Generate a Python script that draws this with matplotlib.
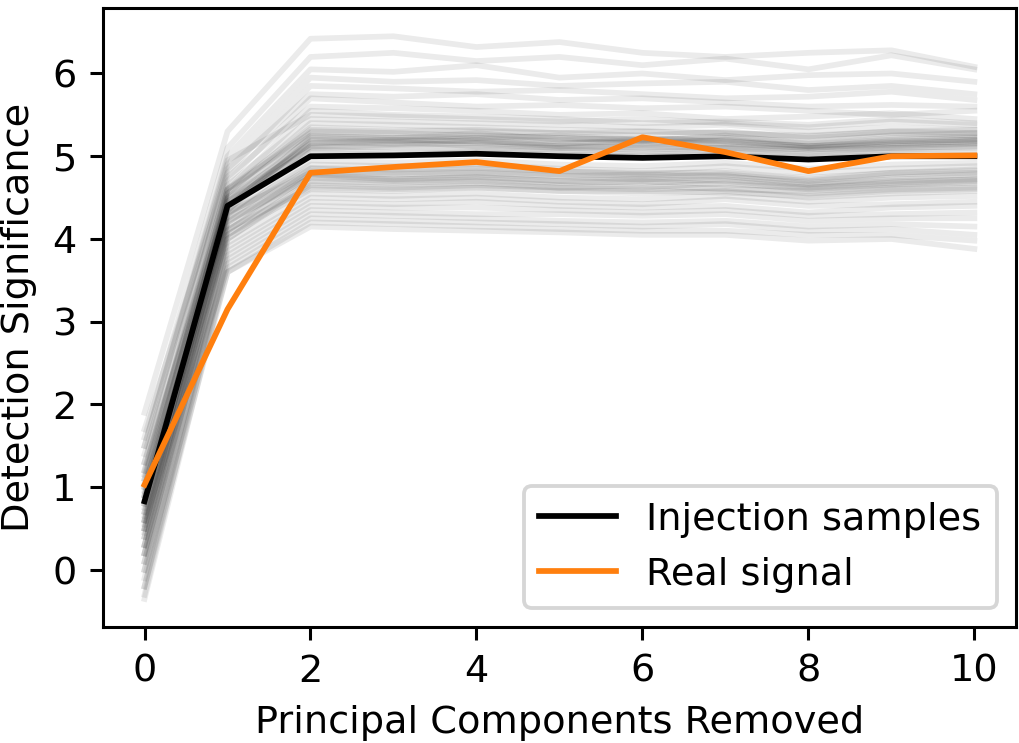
import numpy as np
import matplotlib.pyplot as plt

pcs = list(range(11))

# median of the injection samples and the real signal
injection_median = [0.83, 4.40, 5.00, 5.01, 5.03, 5.00, 4.98, 5.00, 4.96, 5.00, 5.00]
real_signal = [1.03, 3.15, 4.80, 4.87, 4.93, 4.82, 5.23, 5.05, 4.82, 5.00, 5.01]

# individual injection samples
samples = [
    [1.90, 5.30, 6.42, 6.45, 6.32, 6.38, 6.25, 6.20, 6.25, 6.28, 6.08],
    [1.60, 5.10, 6.20, 6.25, 6.15, 6.20, 6.10, 6.18, 6.05, 6.22, 6.05],
    [1.50, 5.00, 6.05, 6.02, 6.10, 5.95, 6.00, 5.92, 5.98, 6.00, 5.90],
    [1.30, 4.90, 5.95, 5.90, 5.92, 5.85, 5.88, 5.90, 5.80, 5.85, 5.75],
    [1.70, 4.80, 5.85, 5.82, 5.78, 5.80, 5.75, 5.70, 5.72, 5.78, 5.68],
    [1.10, 4.85, 5.75, 5.72, 5.75, 5.68, 5.70, 5.65, 5.60, 5.62, 5.60],
    [0.90, 4.70, 5.70, 5.65, 5.60, 5.62, 5.58, 5.60, 5.55, 5.50, 5.55],
    [1.40, 4.75, 5.60, 5.58, 5.55, 5.50, 5.52, 5.45, 5.48, 5.52, 5.45],
    [0.60, 4.60, 5.55, 5.50, 5.48, 5.45, 5.40, 5.42, 5.38, 5.45, 5.40],
    [1.20, 4.65, 5.45, 5.42, 5.40, 5.38, 5.35, 5.38, 5.30, 5.35, 5.32],
    [0.80, 4.55, 5.40, 5.38, 5.35, 5.32, 5.30, 5.28, 5.25, 5.30, 5.28],
    [1.00, 4.60, 5.35, 5.32, 5.30, 5.28, 5.25, 5.30, 5.22, 5.28, 5.25],
    [0.50, 4.50, 5.30, 5.28, 5.25, 5.22, 5.20, 5.22, 5.15, 5.20, 5.22],
    [1.10, 4.55, 5.25, 5.22, 5.28, 5.20, 5.22, 5.18, 5.12, 5.18, 5.20],
    [0.70, 4.45, 5.22, 5.20, 5.18, 5.15, 5.18, 5.15, 5.10, 5.15, 5.18],
    [0.30, 4.40, 5.18, 5.15, 5.20, 5.12, 5.10, 5.12, 5.08, 5.12, 5.15],
    [0.90, 4.50, 5.15, 5.18, 5.12, 5.10, 5.08, 5.10, 5.05, 5.10, 5.12],
    [0.40, 4.35, 5.12, 5.10, 5.10, 5.08, 5.05, 5.08, 5.02, 5.08, 5.10],
    [1.30, 4.45, 5.08, 5.05, 5.08, 5.05, 5.02, 5.05, 5.00, 5.05, 5.05],
    [0.20, 4.30, 5.05, 5.02, 5.05, 5.02, 5.00, 5.02, 4.98, 5.02, 5.02],
    [0.60, 4.25, 4.95, 4.92, 4.95, 4.90, 4.88, 4.92, 4.85, 4.90, 4.92],
    [1.00, 4.30, 4.90, 4.88, 4.90, 4.85, 4.82, 4.88, 4.80, 4.85, 4.88],
    [0.10, 4.20, 4.85, 4.82, 4.85, 4.82, 4.78, 4.82, 4.72, 4.80, 4.82],
    [0.50, 4.15, 4.82, 4.80, 4.82, 4.78, 4.75, 4.78, 4.70, 4.78, 4.80],
    [0.80, 4.20, 4.78, 4.75, 4.78, 4.75, 4.72, 4.75, 4.68, 4.72, 4.75],
    [0.00, 4.10, 4.75, 4.72, 4.75, 4.70, 4.68, 4.72, 4.65, 4.70, 4.72],
    [0.40, 4.05, 4.70, 4.68, 4.70, 4.65, 4.62, 4.68, 4.60, 4.65, 4.68],
    [-0.10, 4.00, 4.65, 4.62, 4.65, 4.62, 4.60, 4.62, 4.55, 4.60, 4.62],
    [0.70, 4.05, 4.60, 4.58, 4.62, 4.58, 4.55, 4.58, 4.50, 4.55, 4.58],
    [0.20, 3.95, 4.55, 4.52, 4.55, 4.50, 4.48, 4.52, 4.45, 4.50, 4.52],
    [-0.20, 3.90, 4.50, 4.48, 4.50, 4.45, 4.42, 4.48, 4.40, 4.42, 4.45],
    [0.30, 3.85, 4.45, 4.42, 4.45, 4.40, 4.38, 4.40, 4.32, 4.38, 4.40],
    [-0.30, 3.80, 4.40, 4.38, 4.38, 4.35, 4.32, 4.35, 4.28, 4.30, 4.32],
    [0.10, 3.75, 4.35, 4.32, 4.30, 4.30, 4.28, 4.30, 4.22, 4.25, 4.25],
    [-0.35, 3.70, 4.30, 4.28, 4.25, 4.22, 4.20, 4.22, 4.15, 4.18, 4.15],
    [0.60, 3.65, 4.25, 4.22, 4.20, 4.18, 4.15, 4.18, 4.10, 4.12, 4.05],
    [-0.20, 3.60, 4.20, 4.18, 4.15, 4.12, 4.10, 4.10, 4.05, 4.05, 3.98],
    [0.00, 3.60, 4.15, 4.12, 4.10, 4.08, 4.05, 4.05, 3.98, 4.00, 3.88],
    [1.50, 4.95, 5.50, 5.48, 5.45, 5.42, 5.45, 5.40, 5.35, 5.42, 5.38],
    [0.50, 4.40, 5.10, 5.12, 5.15, 5.10, 5.12, 5.10, 5.08, 5.10, 5.12],
    [0.90, 4.35, 5.20, 5.18, 5.22, 5.18, 5.15, 5.20, 5.12, 5.18, 5.20],
    [0.30, 4.10, 4.78, 4.72, 4.75, 4.70, 4.72, 4.70, 4.62, 4.68, 4.72],
    [1.20, 4.60, 5.28, 5.25, 5.22, 5.25, 5.20, 5.22, 5.18, 5.25, 5.28],
    [0.20, 4.00, 4.68, 4.65, 4.68, 4.62, 4.65, 4.60, 4.58, 4.62, 4.65],
    [0.85, 4.42, 5.16, 5.20, 5.18, 5.15, 5.20, 5.18, 5.12, 5.16, 5.18],
    [0.65, 4.38, 5.24, 5.22, 5.25, 5.22, 5.18, 5.25, 5.15, 5.22, 5.24],
    [1.05, 4.48, 5.12, 5.14, 5.16, 5.12, 5.14, 5.15, 5.10, 5.14, 5.16],
    [0.75, 4.32, 4.80, 4.78, 4.80, 4.76, 4.78, 4.76, 4.66, 4.74, 4.78],
    [0.45, 4.22, 4.74, 4.70, 4.72, 4.68, 4.70, 4.66, 4.62, 4.66, 4.70],
    [0.95, 4.28, 4.86, 4.84, 4.86, 4.82, 4.80, 4.80, 4.74, 4.80, 4.84],
    [1.15, 4.58, 5.32, 5.30, 5.32, 5.28, 5.30, 5.28, 5.24, 5.30, 5.32],
    [0.55, 4.12, 4.62, 4.60, 4.62, 4.58, 4.58, 4.56, 4.52, 4.58, 4.60],
]

fig = plt.figure(figsize=(3.709, 2.702), dpi=275)
ax = fig.add_axes([0.101, 0.156, 0.895, 0.833])

for s in samples:
    ax.plot(pcs, s, color='k', alpha=0.08, lw=1.5)
ax.plot(pcs, injection_median, color='k', lw=1.5, label='Injection samples')
ax.plot(pcs, real_signal, color='#ff7f0e', lw=1.5, label='Real signal')

ax.set_xlabel('Principal Components Removed')
ax.set_ylabel('Detection Significance')
ax.legend(loc='lower right')
fig.savefig('out.png', dpi=275)
